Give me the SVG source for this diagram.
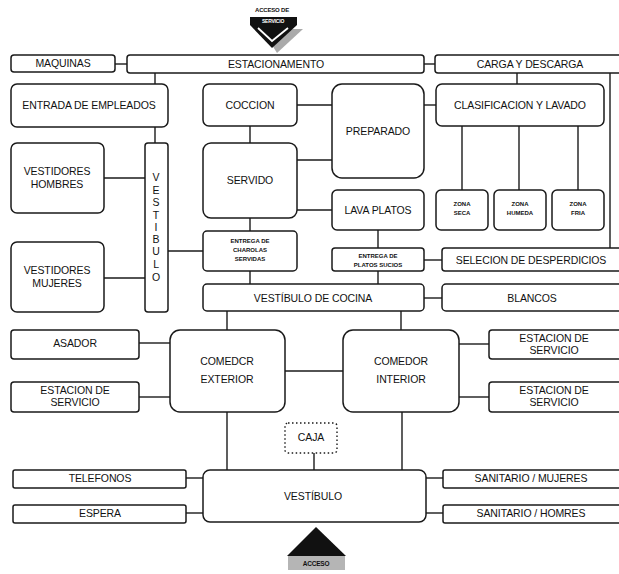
<svg xmlns="http://www.w3.org/2000/svg" width="619" height="574" viewBox="0 0 619 574">
<style>
.b{fill:#fff;stroke:#1a1a1a;stroke-width:1.5}
.d{fill:#fff;stroke:#1a1a1a;stroke-width:1.4;stroke-dasharray:1.5 2.5}
.c line{stroke:#1a1a1a;stroke-width:1.4}
text{font-family:"Liberation Sans",Arial,sans-serif;font-size:10.5px;fill:#111;text-anchor:middle;letter-spacing:-0.1px}
.s{font-size:6px;font-weight:bold;letter-spacing:0}
.a{font-size:6px;font-weight:bold;letter-spacing:-0.2px}
</style>
<rect width="619" height="574" fill="#fff"/>
<g id="connectors" class="c">
<line x1="115" y1="64" x2="127" y2="64"/>
<line x1="424" y1="64" x2="435" y2="64"/>
<line x1="155" y1="73" x2="155" y2="84"/>
<line x1="155" y1="127" x2="155" y2="143"/>
<line x1="297" y1="105" x2="332" y2="105"/>
<line x1="424" y1="105" x2="436" y2="105"/>
<line x1="517" y1="73" x2="517" y2="84"/>
<line x1="610" y1="73" x2="610" y2="248"/>
<line x1="462" y1="126" x2="462" y2="190"/>
<line x1="519" y1="126" x2="519" y2="190"/>
<line x1="578" y1="126" x2="578" y2="190"/>
<line x1="104" y1="178" x2="145" y2="178"/>
<line x1="104" y1="278" x2="145" y2="278"/>
<line x1="250" y1="126" x2="250" y2="143"/>
<line x1="297" y1="160" x2="332" y2="160"/>
<line x1="297" y1="210" x2="332" y2="210"/>
<line x1="250" y1="218" x2="250" y2="231"/>
<line x1="168" y1="251" x2="203" y2="251"/>
<line x1="250" y1="271" x2="250" y2="284"/>
<line x1="378" y1="230" x2="378" y2="248"/>
<line x1="378" y1="271" x2="378" y2="284"/>
<line x1="424" y1="260" x2="442" y2="260"/>
<line x1="424" y1="298" x2="442" y2="298"/>
<line x1="227" y1="311" x2="227" y2="330"/>
<line x1="401" y1="311" x2="401" y2="330"/>
<line x1="139" y1="343" x2="170" y2="343"/>
<line x1="139" y1="397" x2="170" y2="397"/>
<line x1="285" y1="371" x2="343" y2="371"/>
<line x1="459" y1="344" x2="489" y2="344"/>
<line x1="459" y1="397" x2="489" y2="397"/>
<line x1="227" y1="412" x2="227" y2="470"/>
<line x1="402" y1="412" x2="402" y2="470"/>
<line x1="314" y1="453" x2="314" y2="470"/>
<line x1="186" y1="478" x2="203" y2="478"/>
<line x1="186" y1="513" x2="203" y2="513"/>
<line x1="426" y1="478" x2="443" y2="478"/>
<line x1="426" y1="513" x2="443" y2="513"/>
</g>
<g id="acceso-servicio">
<polygon points="262,29 303,29 277,53" fill="#aaa"/>
<polygon points="250,17 297,17 297,25 272,48 250,25" fill="#111"/>
<polyline points="258,28 272,41 288,28" fill="none" stroke="#fff" stroke-width="1.8"/>
<text x="272" y="12" class="a">ACCESO DE</text>
<text x="273" y="23" class="a" style="fill:#fff;font-size:5px">SERVICIO</text>
</g>
<g id="acceso">
<rect x="288" y="556" width="57" height="14" fill="#b5b5b5"/>
<polygon points="316,527 346,556 287,556" fill="#111"/>
<text x="316" y="566" class="a" style="font-size:6.5px">ACCESO</text>
</g>
<g id="maquinas"><rect class="b" x="11" y="55" width="104" height="17" rx="3"/><text x="63" y="67">MAQUINAS</text></g>
<g id="estacionamento"><rect class="b" x="127" y="55" width="297" height="18" rx="3"/><text x="276" y="68">ESTACIONAMENTO</text></g>
<g id="carga"><rect class="b" x="435" y="55" width="190" height="18" rx="3"/><text x="530" y="68">CARGA Y DESCARGA</text></g>
<g id="entrada"><rect class="b" x="11" y="84" width="157" height="43" rx="6"/><text x="89" y="109">ENTRADA DE EMPLEADOS</text></g>
<g id="coccion"><rect class="b" x="203" y="84" width="94" height="42" rx="6"/><text x="250" y="109">COCCION</text></g>
<g id="preparado"><rect class="b" x="332" y="84" width="92" height="94" rx="10"/><text x="378" y="135">PREPARADO</text></g>
<g id="clasificacion"><rect class="b" x="436" y="84" width="168" height="42" rx="6"/><text x="520" y="109">CLASIFICACION Y LAVADO</text></g>
<g id="vestidores-hombres"><rect class="b" x="11" y="143" width="93" height="70" rx="6"/><text x="57" y="175">VESTIDORES</text><text x="57" y="188">HOMBRES</text></g>
<g id="vestibulo-v"><rect class="b" x="145" y="143" width="23" height="169" rx="3"/>
<text x="156" y="181">V</text><text x="156" y="194">E</text><text x="156" y="206">S</text><text x="156" y="219">T</text><text x="156" y="231">I</text><text x="156" y="243">B</text><text x="156" y="255">U</text><text x="156" y="268">L</text><text x="156" y="281">O</text></g>
<g id="servido"><rect class="b" x="203" y="143" width="94" height="75" rx="8"/><text x="250" y="184">SERVIDO</text></g>
<g id="lava-platos"><rect class="b" x="332" y="190" width="92" height="40" rx="5"/><text x="378" y="214">LAVA PLATOS</text></g>
<g id="zona-seca"><rect class="b" x="436" y="190" width="52" height="40" rx="5"/><text class="s" x="462" y="206">ZONA</text><text class="s" x="462" y="215">SECA</text></g>
<g id="zona-humeda"><rect class="b" x="494" y="190" width="52" height="40" rx="5"/><text class="s" x="520" y="206">ZONA</text><text class="s" x="520" y="215">HUMEDA</text></g>
<g id="zona-fria"><rect class="b" x="552" y="190" width="52" height="40" rx="5"/><text class="s" x="578" y="206">ZONA</text><text class="s" x="578" y="215">FRIA</text></g>
<g id="entrega-charolas"><rect class="b" x="203" y="231" width="94" height="40" rx="4"/><text class="s" x="250" y="243">ENTREGA DE</text><text class="s" x="250" y="252">CHAROLAS</text><text class="s" x="250" y="261">SERVIDAS</text></g>
<g id="vestidores-mujeres"><rect class="b" x="11" y="242" width="93" height="70" rx="6"/><text x="57" y="274">VESTIDORES</text><text x="57" y="287">MUJERES</text></g>
<g id="entrega-platos"><rect class="b" x="332" y="248" width="92" height="23" rx="3"/><text class="s" x="378" y="258">ENTREGA DE</text><text class="s" x="378" y="267">PLATOS SUCIOS</text></g>
<g id="seleccion"><rect class="b" x="442" y="248" width="185" height="23" rx="3"/><text x="531" y="264">SELECION DE DESPERDICIOS</text></g>
<g id="vestibulo-cocina"><rect class="b" x="203" y="284" width="221" height="27" rx="4"/><text x="313" y="302">VESTÍBULO DE COCINA</text></g>
<g id="blancos"><rect class="b" x="442" y="284" width="185" height="27" rx="4"/><text x="532" y="302">BLANCOS</text></g>
<g id="asador"><rect class="b" x="11" y="330" width="128" height="29" rx="3"/><text x="75" y="347">ASADOR</text></g>
<g id="estacion-izq"><rect class="b" x="11" y="382" width="128" height="30" rx="3"/><text x="75" y="394">ESTACION DE</text><text x="75" y="406">SERVICIO</text></g>
<g id="comedor-exterior"><rect class="b" x="170" y="330" width="115" height="82" rx="10"/><text x="227" y="365">COMEDCR</text><text x="227" y="383">EXTERIOR</text></g>
<g id="comedor-interior"><rect class="b" x="343" y="330" width="116" height="82" rx="10"/><text x="401" y="365">COMEDOR</text><text x="401" y="383">INTERIOR</text></g>
<g id="estacion-der-1"><rect class="b" x="489" y="330" width="135" height="29" rx="3"/><text x="554" y="342">ESTACION DE</text><text x="554" y="354">SERVICIO</text></g>
<g id="estacion-der-2"><rect class="b" x="489" y="382" width="135" height="30" rx="3"/><text x="554" y="394">ESTACION DE</text><text x="554" y="406">SERVICIO</text></g>
<g id="caja"><rect class="d" x="285" y="423" width="52" height="30" rx="3"/><text x="311" y="441">CAJA</text></g>
<g id="vestibulo"><rect class="b" x="203" y="470" width="223" height="52" rx="7"/><text x="313" y="500">VESTÍBULO</text></g>
<g id="telefonos"><rect class="b" x="13" y="470" width="173" height="18" rx="2"/><text x="100" y="482">TELEFONOS</text></g>
<g id="espera"><rect class="b" x="13" y="505" width="173" height="18" rx="2"/><text x="100" y="517">ESPERA</text></g>
<g id="sanitario-mujeres"><rect class="b" x="443" y="470" width="182" height="18" rx="2"/><text x="531" y="482">SANITARIO / MUJERES</text></g>
<g id="sanitario-hombres"><rect class="b" x="443" y="505" width="182" height="18" rx="2"/><text x="531" y="517">SANITARIO / HOMRES</text></g>
</svg>
